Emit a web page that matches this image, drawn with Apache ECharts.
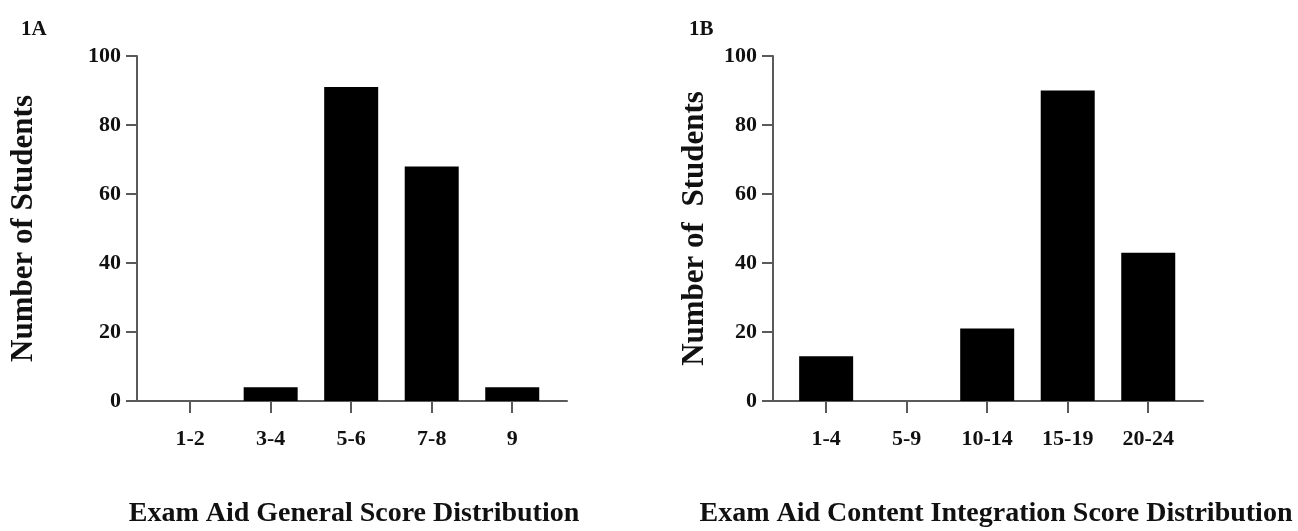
<!DOCTYPE html>
<html>
<head>
<meta charset="utf-8">
<script src="https://cdn.jsdelivr.net/npm/echarts@6/dist/echarts.min.js"></script>
<style>
html,body{margin:0;padding:0;background:#fff;}
#c{width:1298px;height:531px;}
</style>
</head>
<body>
<div id="c"></div>
<script>
// ---- data ----
const catsA = ['1-2', '3-4', '5-6', '7-8', '9'];
const valsA = [0, 4, 91, 68, 4];
const catsB = ['1-4', '5-9', '10-14', '15-19', '20-24'];
const valsB = [13, 0, 21, 90, 43];
const yMin = 0, yMax = 100, yStep = 20;
const titleA = 'Exam Aid General Score Distribution';
const titleB = 'Exam Aid Content Integration Score Distribution';
const yNameA = 'Number of Students';
const yNameB = 'Number of  Students';
const panelA = '1A', panelB = '1B';

const FONT = "'Liberation Serif', 'Times New Roman', serif";
const AXIS_COLOR = '#5a5a5a';
const TEXT_COLOR = '#111';

const chart = echarts.init(document.getElementById('c'));

function xAxisFor(idx, cats) {
  const pos = cats.map((_, i) => i);
  return {
    type: 'value', gridIndex: idx, min: -0.66, max: 4.68,
    splitLine: {show: false},
    axisLine: {show: true, onZero: false, lineStyle: {color: AXIS_COLOR, width: 2}},
    axisTick: {show: true, customValues: pos, length: 12, lineStyle: {color: AXIS_COLOR, width: 2}},
    axisLabel: {
      customValues: pos, margin: 27,
      formatter: v => cats[Math.round(v)],
      fontFamily: FONT, fontWeight: 'bold', fontSize: 22, color: TEXT_COLOR
    }
  };
}
function yAxisFor(idx, name, gap) {
  return {
    type: 'value', gridIndex: idx, min: yMin, max: yMax, interval: yStep,
    name: name, nameLocation: 'middle', nameGap: gap, nameRotate: 90,
    nameTextStyle: {fontFamily: FONT, fontWeight: 'bold', fontSize: 31, color: TEXT_COLOR},
    splitLine: {show: false},
    axisLine: {show: true, onZero: false, lineStyle: {color: AXIS_COLOR, width: 2}},
    axisTick: {show: true, length: 11, lineStyle: {color: AXIS_COLOR, width: 2}},
    axisLabel: {margin: 16, fontFamily: FONT, fontWeight: 'bold', fontSize: 22, color: TEXT_COLOR}
  };
}
function barSeries(idx, vals) {
  return {
    type: 'bar', xAxisIndex: idx, yAxisIndex: idx,
    data: vals.map((v, i) => [i, v]),
    barWidth: 54,
    itemStyle: {color: '#000'},
    silent: true
  };
}

chart.setOption({
  animation: false,
  backgroundColor: '#fff',
  title: [
    {text: panelA, left: 16, top: 14, textStyle: {fontFamily: FONT, fontWeight: 'bold', fontSize: 21, color: TEXT_COLOR}},
    {text: panelB, left: 684, top: 14, textStyle: {fontFamily: FONT, fontWeight: 'bold', fontSize: 21, color: TEXT_COLOR}}
  ],
  grid: [
    {left: 137, width: 430, top: 56, height: 345},
    {left: 773, width: 430, top: 56, height: 345}
  ],
  xAxis: [xAxisFor(0, catsA), xAxisFor(1, catsB)],
  yAxis: [yAxisFor(0, yNameA, 98), yAxisFor(1, yNameB, 63)],
  series: [barSeries(0, valsA), barSeries(1, valsB)],
  graphic: [
    {type: 'text', x: 354, y: 514, style: {text: titleA, font: "bold 28px " + FONT, fill: TEXT_COLOR, textAlign: 'center', textVerticalAlign: 'middle'}},
    {type: 'text', x: 996, y: 514, style: {text: titleB, font: "bold 28px " + FONT, fill: TEXT_COLOR, textAlign: 'center', textVerticalAlign: 'middle'}}
  ]
});
</script>
</body>
</html>
